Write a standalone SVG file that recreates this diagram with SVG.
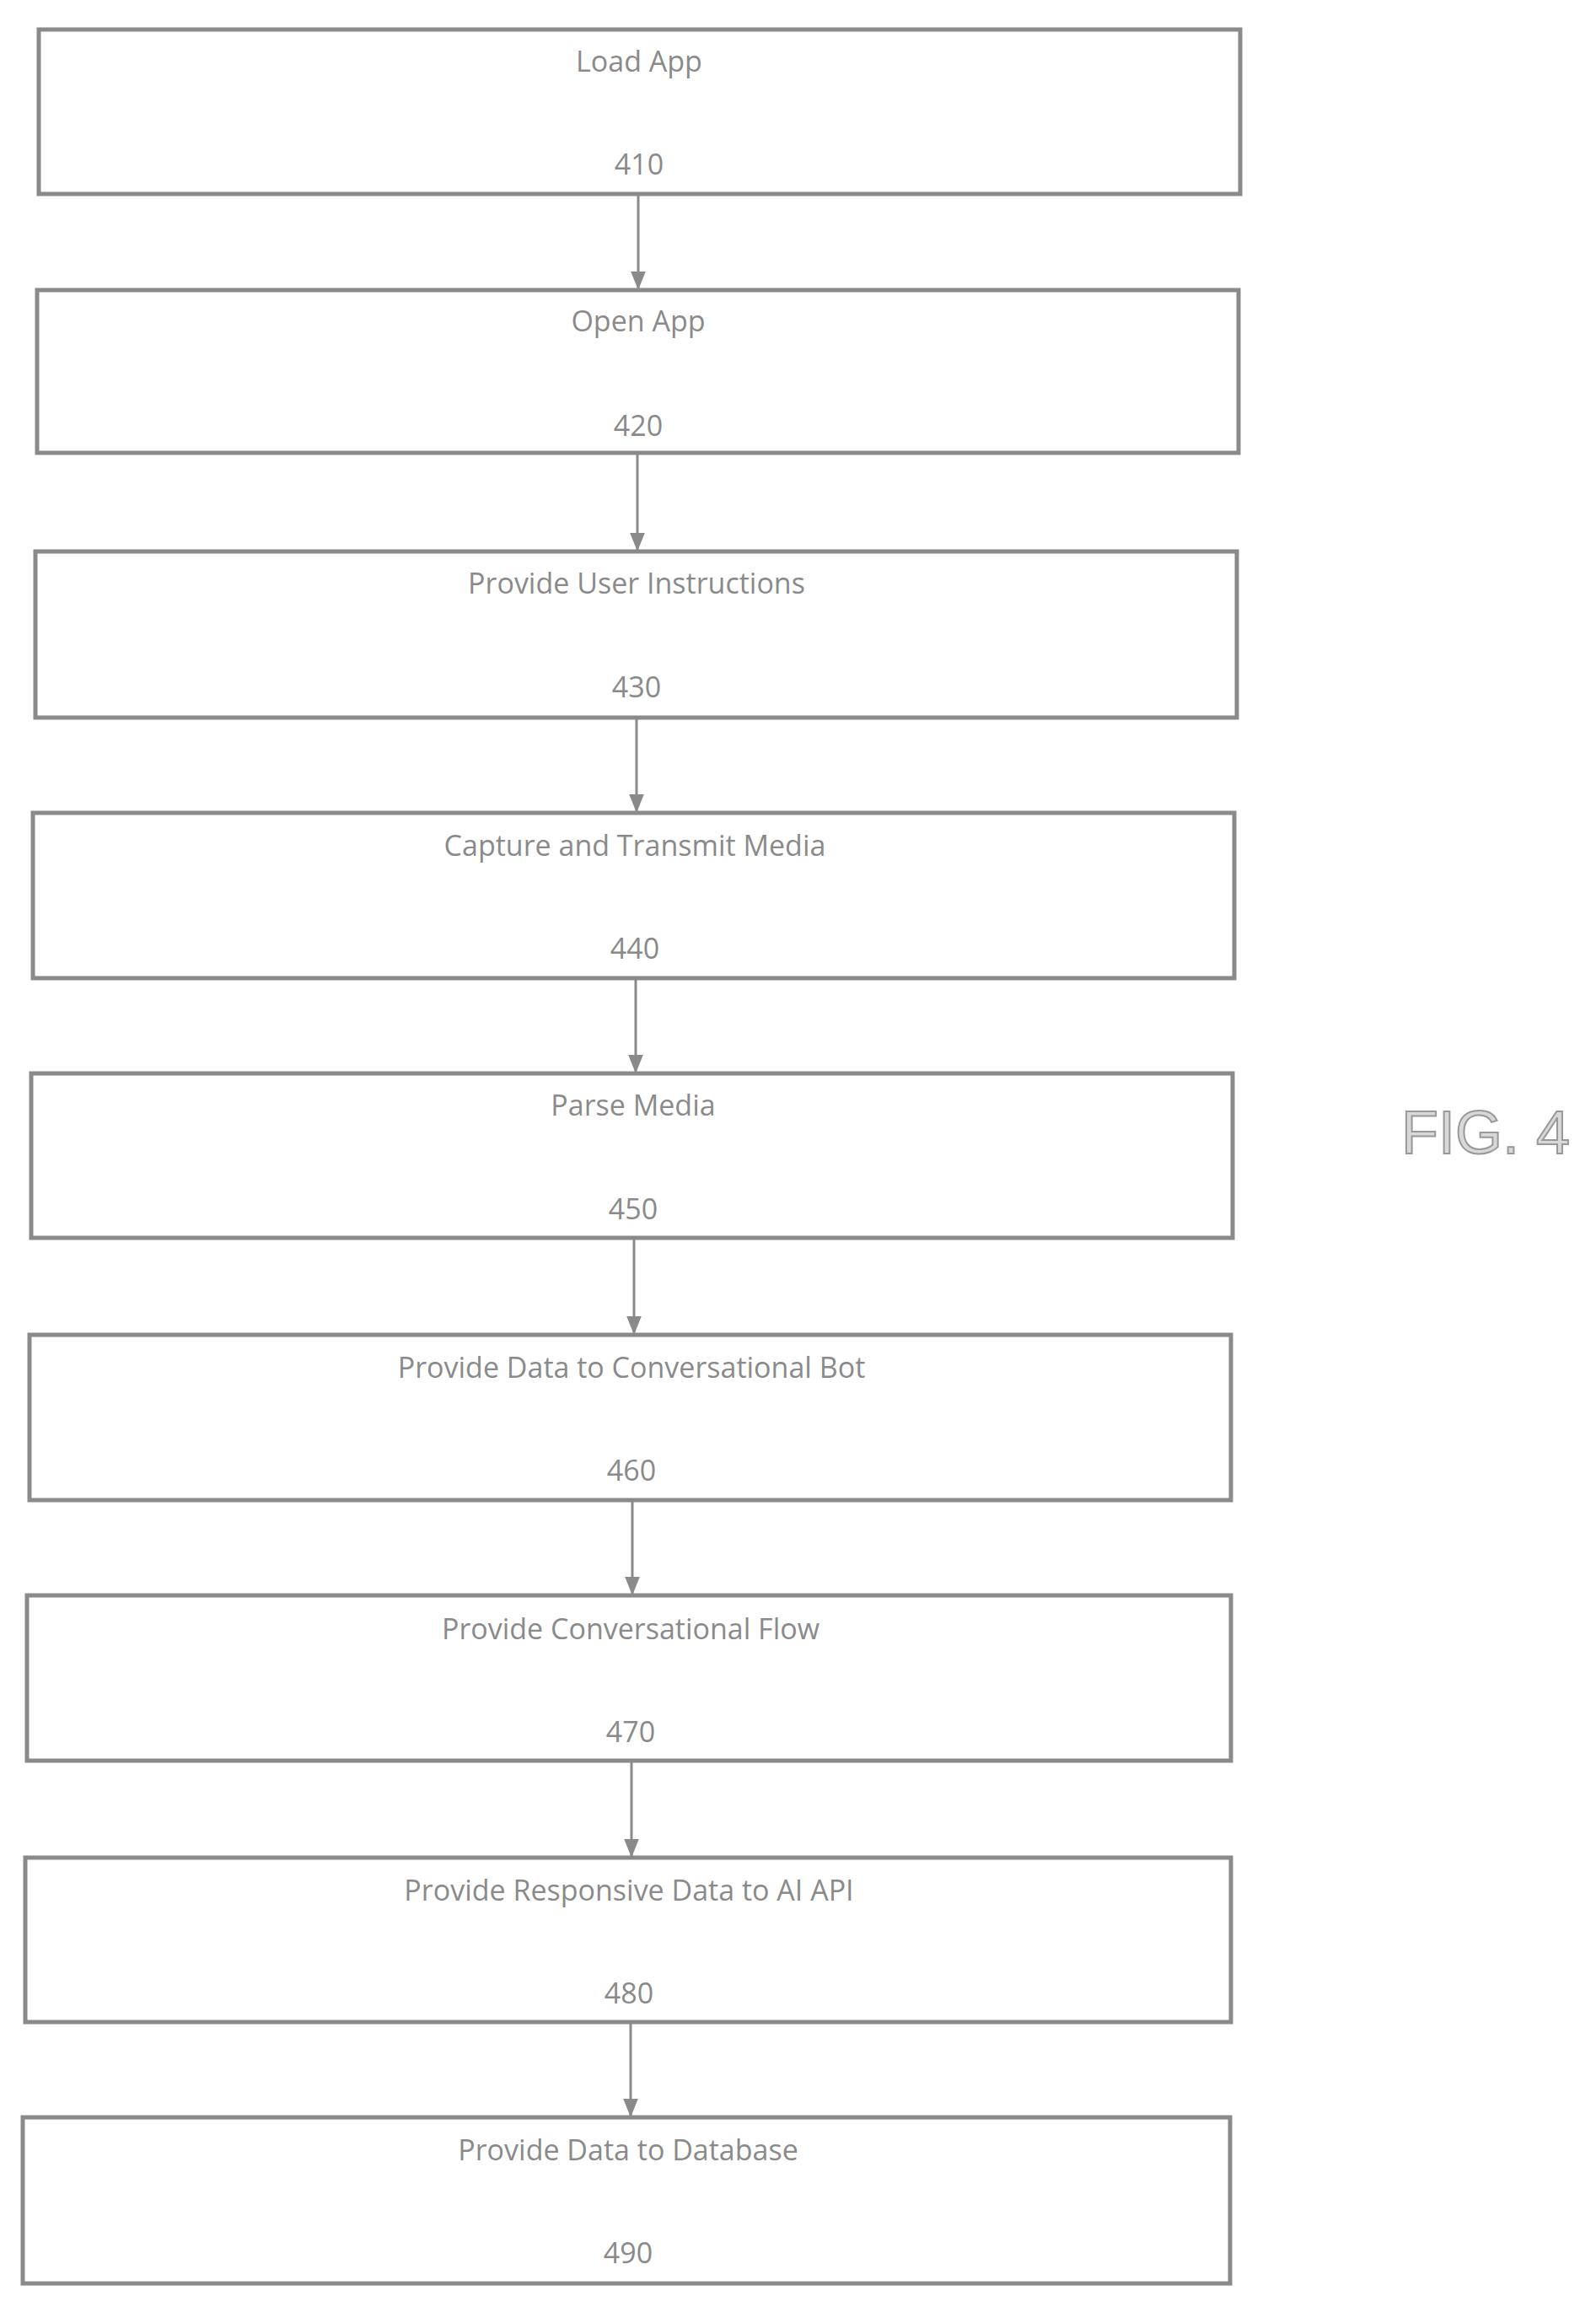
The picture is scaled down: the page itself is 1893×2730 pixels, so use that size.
<svg xmlns="http://www.w3.org/2000/svg" width="1893" height="2730" viewBox="0 0 1893 2730">
<style>
.b{fill:#fff;stroke:#8a8a8a;stroke-width:5}
.t{font-family:"Open Sans","Liberation Sans",sans-serif;font-size:34px;fill:#8a8a8a;text-anchor:middle}
.c{stroke:#8a8a8a;stroke-width:3;fill:none;marker-end:url(#a)}
</style>
<defs><marker id="a" viewBox="0 0 10 10" refX="10" refY="5" markerWidth="7" markerHeight="7" orient="auto" markerUnits="userSpaceOnUse"><path d="M0,0L10,5L0,10z" fill="#8a8a8a" transform="scale(1)"/></marker>
<marker id="m" viewBox="0 0 10 10" refX="10" refY="5" markerWidth="22" markerHeight="22" orient="auto" markerUnits="userSpaceOnUse"><path d="M0,1L10,5L0,9z" fill="#8a8a8a"/></marker></defs>
<g id="connectors" stroke="#8a8a8a" stroke-width="3" fill="none">
<path d="M757,230V344" marker-end="url(#m)"/>
<path d="M756,537V654" marker-end="url(#m)"/>
<path d="M755,851V964" marker-end="url(#m)"/>
<path d="M754,1160V1273" marker-end="url(#m)"/>
<path d="M752,1468V1583" marker-end="url(#m)"/>
<path d="M750,1779V1892" marker-end="url(#m)"/>
<path d="M749,2088V2203" marker-end="url(#m)"/>
<path d="M748,2398V2511" marker-end="url(#m)"/>
</g>
<g id="n410"><rect class="b" x="46" y="35" width="1425" height="195"/><text class="t" x="758" y="85">Load App</text><text class="t" x="758" y="207">410</text></g>
<g id="n420"><rect class="b" x="44" y="344" width="1425" height="193"/><text class="t" x="757" y="393">Open App</text><text class="t" x="757" y="517">420</text></g>
<g id="n430"><rect class="b" x="42" y="654" width="1425" height="197"/><text class="t" x="755" y="704">Provide User Instructions</text><text class="t" x="755" y="827">430</text></g>
<g id="n440"><rect class="b" x="39" y="964" width="1425" height="196"/><text class="t" x="753" y="1015">Capture and Transmit Media</text><text class="t" x="753" y="1137">440</text></g>
<g id="n450"><rect class="b" x="37" y="1273" width="1425" height="195"/><text class="t" x="751" y="1323">Parse Media</text><text class="t" x="751" y="1446">450</text></g>
<g id="n460"><rect class="b" x="35" y="1583" width="1425" height="196"/><text class="t" x="749" y="1634">Provide Data to Conversational Bot</text><text class="t" x="749" y="1756">460</text></g>
<g id="n470"><rect class="b" x="32" y="1892" width="1428" height="196"/><text class="t" x="748" y="1944">Provide Conversational Flow</text><text class="t" x="748" y="2066">470</text></g>
<g id="n480"><rect class="b" x="30" y="2203" width="1430" height="195"/><text class="t" x="746" y="2254">Provide Responsive Data to AI API</text><text class="t" x="746" y="2376">480</text></g>
<g id="n490"><rect class="b" x="27" y="2511" width="1432" height="197"/><text class="t" x="745" y="2562">Provide Data to Database</text><text class="t" x="745" y="2684">490</text></g>
<text x="1762" y="1368" font-family="'Liberation Sans',Arial,sans-serif" font-size="72" fill="#d8d8d8" stroke="#999" stroke-width="2" text-anchor="middle">FIG. 4</text>
</svg>
